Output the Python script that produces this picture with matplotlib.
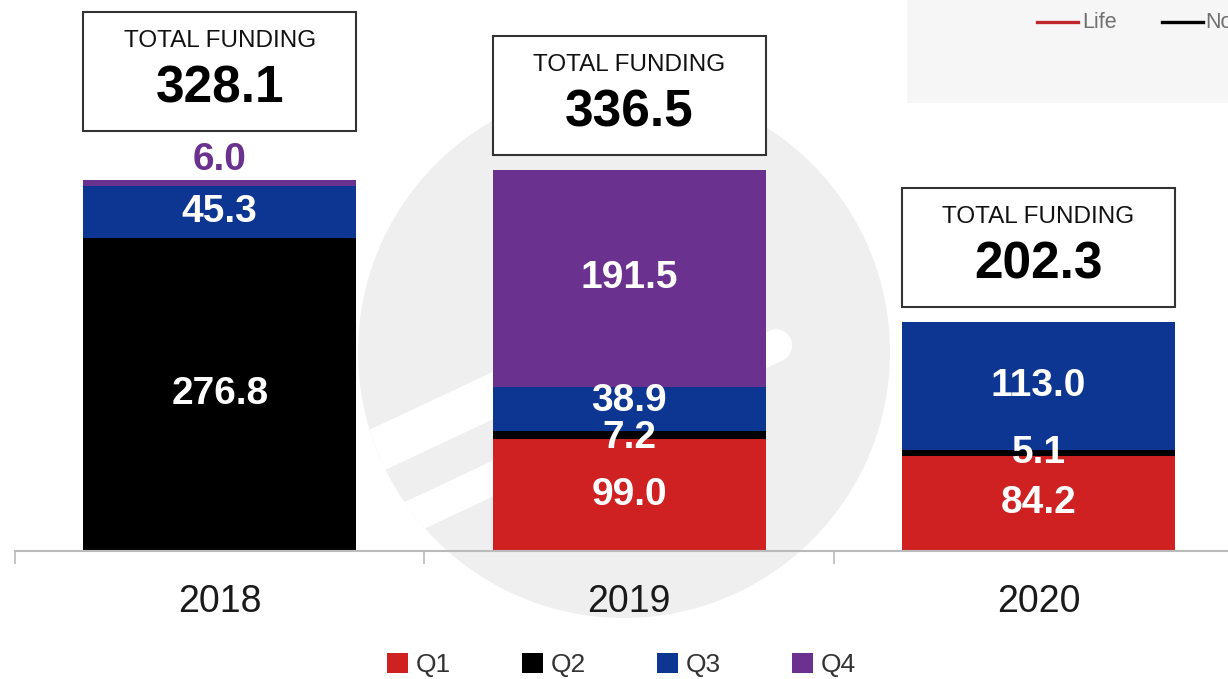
import numpy as np
from matplotlib import pyplot as plt
from matplotlib.patches import Circle, Rectangle
from matplotlib.lines import Line2D

plt.rcParams['font.family'] = ['Liberation Sans', 'DejaVu Sans']

years = ['2018', '2019', '2020']
quarters = ['Q1', 'Q2', 'Q3', 'Q4']
q1 = [0.0, 99.0, 84.2]
q2 = [276.8, 7.2, 5.1]
q3 = [45.3, 38.9, 113.0]
q4 = [6.0, 191.5, 0.0]
totals = [328.1, 336.5, 202.3]
top_legend = ['Life', 'Non-Life']

colors = ['#cf2121', '#000000', '#0d3692', '#6b318f']

fig = plt.figure(figsize=(12.28, 6.79), dpi=100)

# background layer in pixel coords: watermark logo + cropped legend of another chart
bg = fig.add_axes([0, 0, 1, 1], zorder=0)
bg.set_xlim(0, 1228)
bg.set_ylim(679, 0)
bg.axis('off')
circ = Circle((624, 352), 266, color='#efefef', lw=0)
bg.add_patch(circ)
slope = -0.47
for (xa, ya, xb, wpx) in [(330, 396, 700, 43), (340, 479, 776, 32.5)]:
    ln = Line2D([xa, xb], [ya + slope * (xa - 492), ya + slope * (xb - 492)],
                color='white', lw=wpx * 0.72, solid_capstyle='round')
    bg.add_line(ln)
    ln.set_clip_path(circ)

bg.add_patch(Rectangle((907, -5), 330, 108, color='#f6f6f6', lw=0))
bg.add_line(Line2D([1037, 1078], [22, 22], color='#c0282d', lw=2.4))
bg.text(1082, 22, top_legend[0], fontsize=15.5, color='#707070', va='center')
bg.add_line(Line2D([1162, 1203], [22, 22], color='#000000', lw=2.4))
bg.text(1205, 22, top_legend[1], fontsize=15.5, color='#707070', va='center')

ax = fig.add_axes([15 / 1228, 128 / 679, 1 - 15 / 1228, 551 / 679], zorder=1)
ax.patch.set_alpha(0)

x = np.arange(len(years))
w = 0.667
series = [q1, q2, q3, q4]
# small vertical nudges (data units) where two labels sit close together
label_nudge = {(2, 1): 6.5, (1, 1): -3.0}
bottom = np.zeros(len(years))
handles = []
for k, (vals, c) in enumerate(zip(series, colors)):
    b = ax.bar(x, vals, w, bottom=bottom, color=c, lw=0)
    handles.append(b)
    for i, v in enumerate(vals):
        if v <= 0:
            continue
        if k == 3 and v < 10:
            # tiny top segment: label sits above the bar in the series colour
            ax.text(x[i], bottom[i] + v + 1.5, f'{v:.1f}', ha='center', va='bottom',
                    fontsize=28, fontweight='bold', color=c)
        else:
            ax.text(x[i], bottom[i] + v / 2 + label_nudge.get((k, i), 0), f'{v:.1f}',
                    ha='center', va='center', fontsize=28, fontweight='bold', color='white')
    bottom = bottom + np.array(vals)

# total funding boxes
box_h = 105
for i, t in enumerate(totals):
    gap = 43 if 0 < q4[i] < 10 else 13
    y0 = bottom[i] + gap
    ax.add_patch(Rectangle((x[i] - w / 2, y0), w, box_h, facecolor='white',
                           edgecolor='#333333', lw=1.5, clip_on=False, zorder=3))
    ax.text(x[i], y0 + box_h - 25.5, 'TOTAL FUNDING', ha='center', va='center',
            fontsize=17.5, color='#111111', zorder=4)
    ax.text(x[i], y0 + box_h - 68, f'{t:.1f}', ha='center', va='center',
            fontsize=37, fontweight='bold', color='black', zorder=4)

ax.set_xlim(-0.5, 2.4628)
ax.set_ylim(0, 486.7)
for s in ['left', 'top', 'right']:
    ax.spines[s].set_visible(False)
ax.spines['bottom'].set_color('#bbbbbb')
ax.spines['bottom'].set_linewidth(1.5)
ax.set_yticks([])
ax.set_xticks(x)
ax.set_xticklabels(years)
ax.tick_params(axis='x', which='major', length=0, pad=24, labelsize=27, labelcolor='#1a1a1a')
ax.set_xticks([-0.5, 0.5, 1.5], minor=True)
ax.tick_params(axis='x', which='minor', length=9, width=1.2, color='#bbbbbb')

fig.legend(handles, quarters, loc='center', bbox_to_anchor=(0.506, 0.021), ncol=4,
           frameon=False, fontsize=19, handlelength=0.78, handleheight=0.78,
           handletextpad=0.3, columnspacing=2.7, labelcolor='#333333')

fig.savefig('out.png', dpi=100)
